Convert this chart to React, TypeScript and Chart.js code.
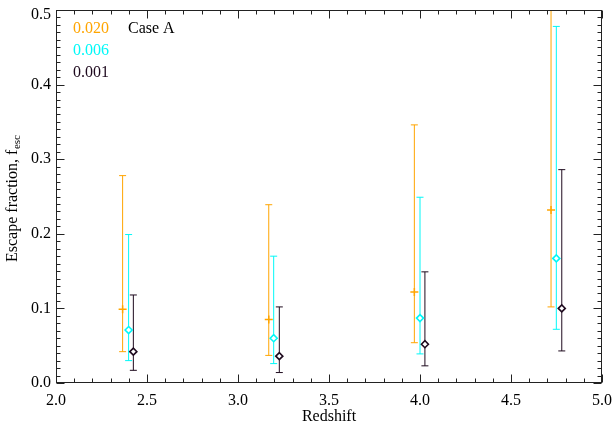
import React, { useEffect, useRef } from "react";
import { Chart, registerables } from "chart.js";

Chart.register(...registerables);

// ---- Data ----
const seriesLabels = ["0.020", "0.006", "0.001"];
const caseLabel = "Case A";

const redshiftOrange = [2.366, 3.169, 3.969, 4.72];
const fescOrange = [0.099, 0.085, 0.122, 0.232];
const lowOrange = [0.042, 0.037, 0.054, 0.102];
const highOrange = [0.278, 0.239, 0.346, 0.56];

const redshiftCyan = [2.399, 3.196, 4.0, 4.749];
const fescCyan = [0.071, 0.06, 0.087, 0.167];
const lowCyan = [0.03, 0.026, 0.039, 0.072];
const highCyan = [0.199, 0.17, 0.249, 0.478];

const redshiftBlack = [2.425, 3.227, 4.027, 4.779];
const fescBlack = [0.042, 0.036, 0.052, 0.1];
const lowBlack = [0.017, 0.014, 0.023, 0.043];
const highBlack = [0.118, 0.102, 0.149, 0.286];

const xTicks = [2.0, 2.5, 3.0, 3.5, 4.0, 4.5, 5.0];
const yTicks = [0.0, 0.1, 0.2, 0.3, 0.4, 0.5];

const ORANGE = "#ffa500";
const CYAN = "#00f8f8";
const DARK = "#1e0a1e";
const FONT = "'Liberation Serif', 'DejaVu Serif', serif";

const SERIES = [
  { label: seriesLabels[0], color: ORANGE, z: redshiftOrange, f: fescOrange, lo: lowOrange, hi: highOrange, style: "cross" },
  { label: seriesLabels[1], color: CYAN, z: redshiftCyan, f: fescCyan, lo: lowCyan, hi: highCyan, style: "rectRot" },
  { label: seriesLabels[2], color: DARK, z: redshiftBlack, f: fescBlack, lo: lowBlack, hi: highBlack, style: "rectRot" },
];

const fmt = (v: number) => Number(v).toFixed(1);

const zeroPad = (scale: any) => {
  scale.paddingLeft = 0;
  scale.paddingRight = 0;
  scale.paddingTop = 0;
  scale.paddingBottom = 0;
};

const overlay = {
  id: "overlay",
  beforeDatasetsDraw(chart: any) {
    const { ctx, chartArea: ca } = chart;
    const x = chart.scales.x;
    const y = chart.scales.y;
    ctx.save();
    ctx.beginPath();
    ctx.rect(ca.left, ca.top, ca.right - ca.left, ca.bottom - ca.top);
    ctx.clip();
    ctx.lineWidth = 1;
    SERIES.forEach((s) => {
      ctx.strokeStyle = s.color;
      s.z.forEach((z, i) => {
        const px = x.getPixelForValue(z);
        const pl = y.getPixelForValue(s.lo[i]);
        const ph = y.getPixelForValue(s.hi[i]);
        ctx.beginPath();
        ctx.moveTo(px, pl);
        ctx.lineTo(px, ph);
        ctx.moveTo(px - 3.5, pl);
        ctx.lineTo(px + 3.5, pl);
        ctx.moveTo(px - 3.5, ph);
        ctx.lineTo(px + 3.5, ph);
        ctx.stroke();
      });
    });
    ctx.restore();
  },
  afterDraw(chart: any) {
    const { ctx, chartArea: ca } = chart;
    const x = chart.scales.x;
    const y = chart.scales.y;
    ctx.save();
    ctx.strokeStyle = "#222";
    ctx.lineWidth = 1;
    const L = Math.round(ca.left) + 0.5;
    const R = Math.round(ca.right) - 0.5;
    const T = Math.round(ca.top) + 0.5;
    const B = Math.round(ca.bottom) - 0.5;
    ctx.strokeRect(L, T, R - L, B - T);
    // x ticks (inward, bottom & top): major 0.5, minor 0.1
    ctx.beginPath();
    for (let k = 0; k <= 30; k++) {
      const v = 2 + k * 0.1;
      const px = Math.round(x.getPixelForValue(v)) + 0.5;
      const len = k % 5 === 0 ? 8 : 4;
      ctx.moveTo(px, B);
      ctx.lineTo(px, B - len);
      ctx.moveTo(px, T);
      ctx.lineTo(px, T + len);
    }
    // y ticks (inward, left & right): major 0.1, minor 0.01
    for (let k = 0; k <= 50; k++) {
      const v = k * 0.01;
      const py = Math.round(y.getPixelForValue(v)) + 0.5;
      const len = k % 10 === 0 ? 8 : 4;
      ctx.moveTo(L, py);
      ctx.lineTo(L + len, py);
      ctx.moveTo(R, py);
      ctx.lineTo(R - len, py);
    }
    ctx.stroke();

    // top y label, nudged down inside like the reference
    ctx.font = `16px ${FONT}`;
    ctx.fillStyle = "#000";
    ctx.textAlign = "right";
    ctx.textBaseline = "middle";
    const topVal = yTicks[yTicks.length - 1];
    ctx.fillText(fmt(topVal), ca.left - 5, y.getPixelForValue(topVal) + 5);

    // legend text
    ctx.textAlign = "left";
    ctx.textBaseline = "alphabetic";
    SERIES.forEach((s, i) => {
      ctx.fillStyle = s.color;
      ctx.fillText(s.label, 73, 33 + i * 22);
    });
    ctx.fillStyle = "#000";
    ctx.fillText(caseLabel, 128, 33);

    // y axis title with subscript
    ctx.translate(17, 262);
    ctx.rotate(-Math.PI / 2);
    ctx.fillStyle = "#000";
    ctx.font = `16px ${FONT}`;
    const main = "Escape fraction, f";
    ctx.fillText(main, 0, 0);
    const w = ctx.measureText(main).width;
    ctx.font = `11px ${FONT}`;
    ctx.fillText("esc", w + 0.5, 3);
    ctx.restore();
  },
};

export default function App() {
  const ref = useRef<HTMLCanvasElement>(null);
  useEffect(() => {
    if (!ref.current) return;
    const chart = new Chart(ref.current, {
      type: "scatter",
      data: {
        datasets: SERIES.map((s) => ({
          label: s.label,
          data: s.z.map((z, i) => ({ x: z, y: s.f[i] })),
          borderColor: s.color,
          backgroundColor: s.style === "cross" ? s.color : "#ffffff",
          pointStyle: s.style as any,
          pointRadius: s.style === "cross" ? 4 : 3.5,
          pointBorderWidth: s.style === "cross" ? 1.5 : 1.6,
          pointHoverRadius: 4,
        })),
      },
      options: {
        animation: false,
        responsive: true,
        maintainAspectRatio: false,
        layout: { padding: { top: 10, right: 11, left: 0, bottom: 0 } },
        plugins: {
          legend: { display: false },
          tooltip: { enabled: false },
        },
        scales: {
          x: {
            type: "linear",
            min: 2,
            max: 5,
            afterBuildTicks: (scale: any) => {
              scale.ticks = xTicks.map((v) => ({ value: v }));
            },
            afterFit: (scale: any) => {
              scale.height = 45;
              zeroPad(scale);
            },
            grid: { display: false, drawTicks: false },
            border: { display: false },
            ticks: {
              color: "#000",
              padding: 8,
              font: { family: FONT, size: 16 },
              callback: (v: any) => fmt(v),
              maxRotation: 0,
            },
            title: {
              display: true,
              text: "Redshift",
              color: "#000",
              font: { family: FONT, size: 16 },
              padding: { top: 0, bottom: 2 },
            },
          },
          y: {
            type: "linear",
            min: 0,
            max: 0.5,
            afterBuildTicks: (scale: any) => {
              scale.ticks = yTicks.map((v) => ({ value: v }));
            },
            afterFit: (scale: any) => {
              scale.width = 56;
              zeroPad(scale);
            },
            grid: { display: false, drawTicks: false },
            border: { display: false },
            ticks: {
              color: "#000",
              padding: 5,
              font: { family: FONT, size: 16 },
              callback: (v: any) => (Number(v) >= 0.5 ? "" : fmt(v)),
            },
          },
        },
      },
      plugins: [overlay],
    });
    return () => chart.destroy();
  }, []);
  return (
    <div style={{ position: "fixed", left: 0, top: 0, width: 613, height: 428, background: "#fff" }}>
      <canvas ref={ref} />
    </div>
  );
}
